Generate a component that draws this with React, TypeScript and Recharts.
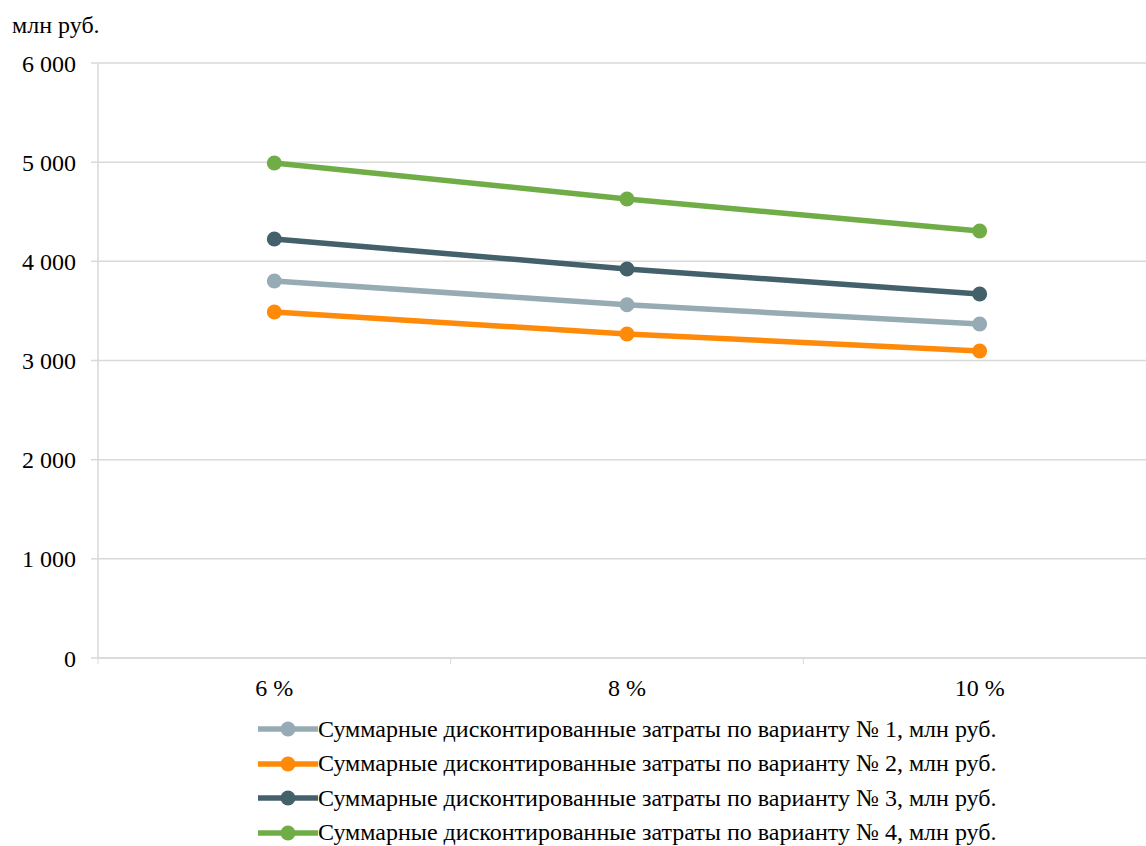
import React from 'react';
import { LineChart, Line, XAxis, YAxis, CartesianGrid, Legend } from 'recharts';

const categories = ['6 %', '8 %', '10 %'];
const series1 = [3802, 3562, 3368];
const series2 = [3489, 3267, 3096];
const series3 = [4225, 3923, 3671];
const series4 = [4992, 4629, 4306];
const seriesNames = [
  'Суммарные дисконтированные затраты по варианту № 1, млн руб.',
  'Суммарные дисконтированные затраты по варианту № 2, млн руб.',
  'Суммарные дисконтированные затраты по варианту № 3, млн руб.',
  'Суммарные дисконтированные затраты по варианту № 4, млн руб.',
];
const seriesColors = ['#97abb5', '#ff8a0a', '#44606a', '#70ad47'];
const yTicks = [0, 1000, 2000, 3000, 4000, 5000, 6000];
const unitLabel = 'млн руб.';

const FONT = '"Liberation Serif", "Times New Roman", serif';
const FS = 24;
const GRID = '#d9d9d9';

const data = categories.map((c, i) => ({
  pos: i + 0.5,
  label: c,
  s1: series1[i],
  s2: series2[i],
  s3: series3[i],
  s4: series4[i],
}));
const keys = ['s1', 's2', 's3', 's4'];

const fmt = (v: number) => {
  const s = String(Math.round(v));
  return s.replace(/\B(?=(\d{3})+(?!\d))/g, ' ');
};

const XTick = (props: any) => {
  const { x, y, payload } = props;
  const v = payload.value as number;
  if (Number.isInteger(v)) {
    return <line x1={x} x2={x} y1={y} y2={y + 6} stroke={GRID} strokeWidth={1} />;
  }
  const idx = Math.floor(v);
  return (
    <text x={x} y={y + 30} textAnchor="middle" dominantBaseline="central" fontFamily={FONT} fontSize={FS} fill="#000">
      {categories[idx]}
    </text>
  );
};

const LegendContent = () => (
  <div style={{ display: 'flex', flexDirection: 'column' }}>
    {seriesNames.map((n, i) => (
      <div key={i} style={{ display: 'flex', alignItems: 'center', height: 34.5 }}>
        <svg width={60} height={16} style={{ display: 'block' }}>
          <line x1={0} x2={60} y1={8} y2={8} stroke={seriesColors[i]} strokeWidth={5.5} />
          <circle cx={30} cy={8} r={7.5} fill={seriesColors[i]} />
        </svg>
        <span style={{ fontFamily: FONT, fontSize: FS, color: '#000', whiteSpace: 'nowrap' }}>{n}</span>
      </div>
    ))}
  </div>
);

export default function App() {
  return (
    <div style={{ position: 'absolute', left: 0, top: 0, width: 1146, height: 846, overflow: 'hidden', background: '#fff' }}>
      <div style={{ position: 'absolute', left: 12, top: 11, fontFamily: FONT, fontSize: FS, lineHeight: '28px', color: '#000' }}>
        {unitLabel}
      </div>
      <LineChart width={1160} height={846} data={data} margin={{ top: 63, right: 4, bottom: 148, left: 0 }}>
        <CartesianGrid horizontal vertical={false} stroke={GRID} strokeWidth={1.5} />
        <XAxis
          dataKey="pos"
          type="number"
          domain={[0, 3]}
          ticks={[0, 0.5, 1, 1.5, 2, 2.5, 3]}
          interval={0}
          tickLine={false}
          tickSize={0}
          tickMargin={0}
          axisLine={{ stroke: GRID, strokeWidth: 1.5 }}
          tick={<XTick />}
          height={40}
        />
        <YAxis
          type="number"
          domain={[0, 6000]}
          ticks={yTicks}
          interval={0}
          width={98}
          tickSize={7}
          tickMargin={15}
          tickLine={{ stroke: GRID, strokeWidth: 1.5 }}
          axisLine={{ stroke: GRID, strokeWidth: 1.5 }}
          tickFormatter={fmt}
          tick={{ fontFamily: FONT, fontSize: FS, fill: '#000' }}
        />
        {keys.map((k, i) => (
          <Line
            key={k}
            dataKey={k}
            name={seriesNames[i]}
            stroke={seriesColors[i]}
            strokeWidth={5.5}
            dot={{ r: 7.5, fill: seriesColors[i], stroke: seriesColors[i], strokeWidth: 0 }}
            activeDot={false}
            isAnimationActive={false}
          />
        ))}
        <Legend
          layout="vertical"
          verticalAlign="middle"
          align="center"
          wrapperStyle={{ top: 712, left: 258, width: 880 }}
          content={<LegendContent />}
        />
      </LineChart>
    </div>
  );
}
